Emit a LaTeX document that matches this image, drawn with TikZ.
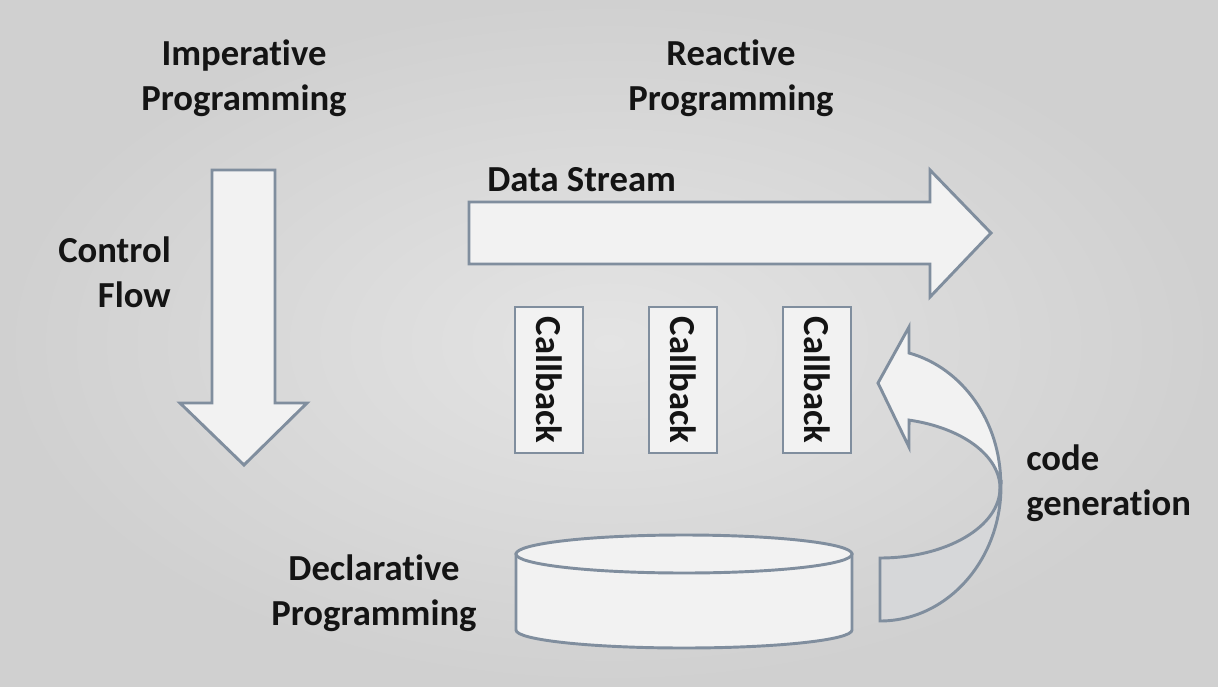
\documentclass[tikz,border=0pt]{standalone}
\usepackage{fontspec}
\setmainfont{Carlito}[Ligatures={NoCommon,NoContextual,NoRequired,NoRare}]
\usepackage{xcolor}

\definecolor{slideline}{RGB}{128,142,158}
\definecolor{shapefill}{RGB}{242,242,242}
\definecolor{backfill}{RGB}{214,215,217}
\definecolor{textdark}{RGB}{20,20,20}

\tikzset{
  shapeline/.style={draw=slideline, line width=2.2pt, line join=miter, fill=shapefill},
  lbl/.style={font=\fontsize{27.5}{34}\selectfont\bfseries, text=textdark, inner sep=0pt},
  callbox/.style={draw=slideline, line width=1.6pt, fill=shapefill, rotate=-90,
    minimum width=110pt, minimum height=51pt, inner sep=0pt,
    font=\fontsize{27.5}{34}\selectfont\bfseries, text=textdark}
}

\begin{document}
\begin{tikzpicture}[x=0.75pt,y=0.75pt,yscale=-1,xscale=1]
\useasboundingbox (0,0) rectangle (1218,686);
\shade[inner color={rgb,255:red,228;green,228;blue,228}, outer color={rgb,255:red,208;green,208;blue,208}] (0,0) rectangle (1218,686);

%Shape: Down Arrow
\draw [shapeline] (212,170) -- (275,170) -- (275,403) -- (307,403) -- (244,465) -- (180,403) -- (212,403) -- cycle ;

%Shape: Right Arrow
\draw [shapeline] (469,202) -- (930,202) -- (930,170) -- (991,233) -- (930,297) -- (930,264) -- (469,264) -- cycle ;

%Callbacks
\foreach \x [count=\i] in {549,683,817}
  \node [callbox] (cb\i) at (\x,380) {Callback};

%Shape: Can
\draw [shapeline] (516,554) -- (516,630) arc [start angle=180, end angle=0, x radius=168, y radius=18] -- (852,554) -- cycle ;
\draw [shapeline] (684,554) ellipse [x radius=168, y radius=19] ;

%Shape: Curved Arrow (back part)
\draw [shapeline, fill=backfill] (1001,486) arc [start angle=0, end angle=90, x radius=121, y radius=135] -- (880,558) arc [start angle=90, end angle=0, x radius=120, y radius=70] -- cycle ;
%Shape: Curved Arrow (front part)
\draw [shapeline] (909,353) arc [start angle=-76, end angle=0, x radius=121, y radius=135] -- (1000,488) arc [start angle=0, end angle=-76, x radius=120, y radius=70] -- (909,447) -- (878,383) -- (909,327) -- cycle ;

% Text Node
\node [lbl, align=center] (imp) at (244,78) {Imperative\\Programming};
% Text Node
\node [lbl, align=center] (rea) at (731,78) {Reactive\\Programming};
% Text Node
\node [lbl, align=right, anchor=east] (ctl) at (171,272) {Control\\Flow};
% Text Node
\node [lbl, anchor=west] (ds) at (487,180) {Data Stream};
% Text Node
\node [lbl, align=left, anchor=west] (gen) at (1026,483) {code\\generation};
% Text Node
\node [lbl, align=center] (dec) at (374,593) {Declarative\\Programming};

\end{tikzpicture}
\end{document}
